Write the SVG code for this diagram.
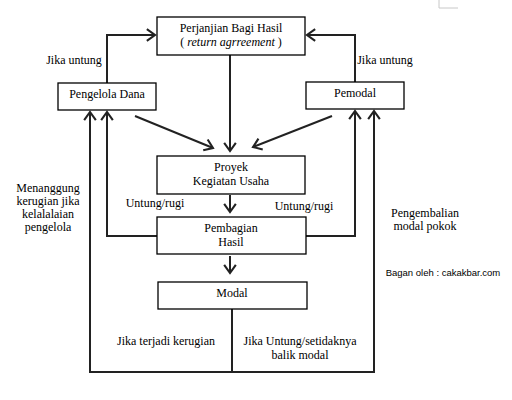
<svg xmlns="http://www.w3.org/2000/svg" width="512" height="400" viewBox="0 0 512 400">
<defs>
<marker id="ah" markerUnits="userSpaceOnUse" markerWidth="14" markerHeight="14" refX="10" refY="6" orient="auto" viewBox="0 0 12 12">
<path d="M3,1 L10,6 L3,11" fill="none" stroke="#222" stroke-width="1.8"/>
</marker>
</defs>
<style>
.box{fill:#fff;stroke:#000;stroke-width:1.3}
.t{font-family:'Liberation Serif','Times New Roman','DejaVu Serif',serif;font-size:12px;fill:#000;text-anchor:middle}
.c{fill:none;stroke:#222;stroke-width:2}
.s{font-family:'Liberation Sans',Arial,sans-serif;font-size:9.5px;fill:#000;text-anchor:middle}
</style>
<rect width="512" height="400" fill="#fff"/>
<path d="M439,0 V8 H458" fill="none" stroke="#c8c8c8" stroke-width="1"/>
<g id="connectors">
<path class="c" d="M107,83 V35 H155" marker-end="url(#ah)"/>
<path class="c" d="M355,82 V35 H307" marker-end="url(#ah)"/>
<path class="c" d="M230,55 V151" marker-end="url(#ah)"/>
<path class="c" d="M135,116 L213,148" marker-end="url(#ah)"/>
<path class="c" d="M332,116 L253,147" marker-end="url(#ah)"/>
<path class="c" d="M230,195 V212" marker-end="url(#ah)"/>
<path class="c" d="M230,256 V273" marker-end="url(#ah)"/>
<path class="c" d="M157,236 H107 V112" marker-end="url(#ah)"/>
<path class="c" d="M306,236 H355 V111" marker-end="url(#ah)"/>
<path class="c" d="M232,309 V372 H90 V112" marker-end="url(#ah)"/>
<path class="c" d="M232,372 H374 V111" marker-end="url(#ah)"/>
</g>
<g id="perjanjian">
<rect class="box" x="157" y="17" width="148" height="38"/>
<text class="t" x="231" y="32">Perjanjian Bagi Hasil</text>
<text class="t" x="231" y="46">( <tspan font-style="italic">return agrreement</tspan> )</text>
</g>
<g id="pengelola">
<rect class="box" x="58" y="83" width="98" height="27"/>
<text class="t" x="107" y="98">Pengelola Dana</text>
</g>
<g id="pemodal">
<rect class="box" x="306" y="82" width="98" height="27"/>
<text class="t" x="355" y="97">Pemodal</text>
</g>
<g id="proyek">
<rect class="box" x="157" y="156" width="148" height="38"/>
<text class="t" x="231" y="171">Proyek</text>
<text class="t" x="231" y="185">Kegiatan Usaha</text>
</g>
<g id="pembagian">
<rect class="box" x="157" y="217" width="149" height="37"/>
<text class="t" x="231" y="232">Pembagian</text>
<text class="t" x="231" y="246">Hasil</text>
</g>
<g id="modal">
<rect class="box" x="158" y="282" width="149" height="27"/>
<text class="t" x="232" y="297">Modal</text>
</g>
<g id="labels">
<text class="t" x="74" y="64">Jika untung</text>
<text class="t" x="385" y="64">Jika untung</text>
<text class="t" x="48" y="192">Menanggung</text>
<text class="t" x="48" y="205">kerugian jika</text>
<text class="t" x="48" y="218">kelalalaian</text>
<text class="t" x="48" y="231">pengelola</text>
<text class="t" x="155" y="207">Untung/rugi</text>
<text class="t" x="304" y="210">Untung/rugi</text>
<text class="t" x="425" y="217">Pengembalian</text>
<text class="t" x="425" y="230">modal pokok</text>
<text class="s" x="443" y="276">Bagan oleh : cakakbar.com</text>
<text class="t" x="166" y="345">Jika terjadi kerugian</text>
<text class="t" x="300" y="345">Jika Untung/setidaknya</text>
<text class="t" x="300" y="358.5">balik modal</text>
</g>
</svg>
